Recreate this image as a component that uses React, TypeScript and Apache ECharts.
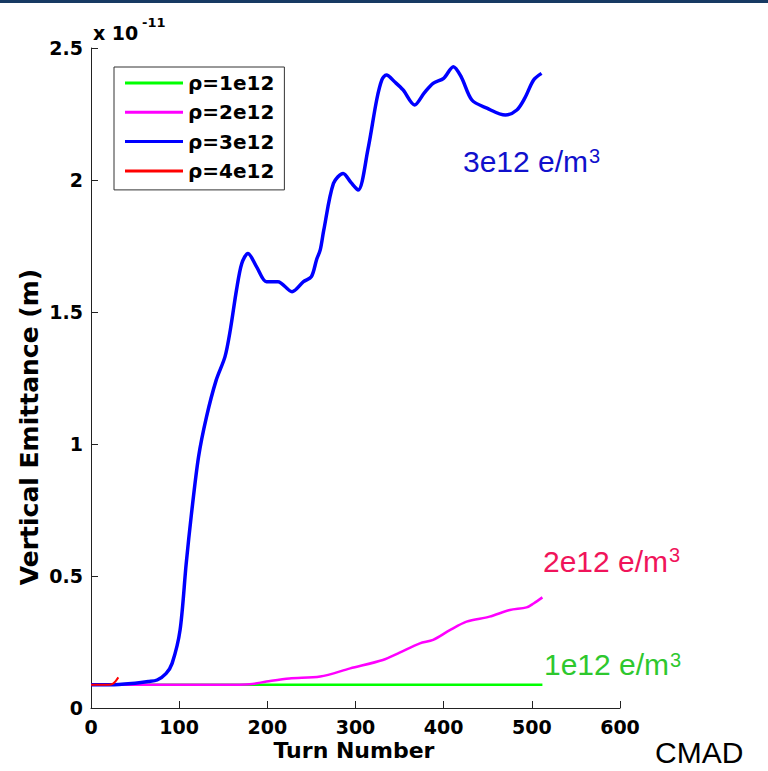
import React, { useEffect, useRef } from "react";
import * as echarts from "echarts";

// Emittance in units of 1e-11 m
const seriesNames = ["ρ=1e12", "ρ=2e12", "ρ=3e12", "ρ=4e12"];
const seriesColors = ["#00ff00", "#ff00ff", "#0000ff", "#ff0000"];

const greenX = [0, 512];
const greenY = [0.088, 0.088];

const magentaX = [0, 50, 100, 150, 180, 199, 225, 260, 294, 331, 350, 373, 388, 407, 426, 452, 475, 494, 502, 512];
const magentaY = [0.088, 0.088, 0.088, 0.088, 0.09, 0.1, 0.112, 0.119, 0.15, 0.182, 0.21, 0.245, 0.258, 0.295, 0.327, 0.346, 0.371, 0.381, 0.396, 0.419];

const blueX = [0, 22, 50, 65, 75, 85, 92, 101, 108, 114, 122, 131, 142, 152, 158, 165, 171, 178, 188, 199, 212, 228, 241, 250, 256, 260, 264, 275, 286, 295, 303, 314, 324, 330, 335, 345, 354, 367, 378, 388, 400, 411, 420, 432, 449, 470, 483, 492, 502, 511];
const blueY = [0.088, 0.088, 0.094, 0.1, 0.106, 0.13, 0.169, 0.295, 0.548, 0.737, 0.952, 1.103, 1.242, 1.331, 1.432, 1.583, 1.684, 1.722, 1.67, 1.615, 1.615, 1.577, 1.615, 1.634, 1.7, 1.735, 1.81, 1.987, 2.025, 1.99, 1.962, 2.114, 2.303, 2.38, 2.398, 2.37, 2.341, 2.284, 2.33, 2.366, 2.385, 2.429, 2.39, 2.303, 2.272, 2.246, 2.265, 2.31, 2.379, 2.404];

const redX = [0, 10, 20, 25, 28, 31];
const redY = [0.088, 0.088, 0.088, 0.092, 0.102, 0.116];

const xTicks = { min: 0, max: 600, interval: 100 };
const yTicks = { min: 0, max: 2.5, interval: 0.5 };

const pairs = (xs: number[], ys: number[]) => xs.map((x, i) => [x, ys[i]]);

export default function App() {
  const ref = useRef<HTMLDivElement>(null);
  useEffect(() => {
    if (!ref.current) return;
    const chart = echarts.init(ref.current, undefined, { renderer: "svg" });
    const boldFont = "DejaVu Sans";
    const axisColor = "#222";
    const seriesData = [pairs(greenX, greenY), pairs(magentaX, magentaY), pairs(blueX, blueY), pairs(redX, redY)];
    const widths = [2.5, 2.5, 3.5, 2];
    chart.setOption({
      animation: false,
      backgroundColor: "#ffffff",
      grid: { left: 91, top: 48, right: 148, bottom: 63 },
      xAxis: {
        type: "value",
        min: xTicks.min,
        max: xTicks.max,
        interval: xTicks.interval,
        axisLine: { show: true, lineStyle: { color: axisColor, width: 1 } },
        axisTick: { show: true, inside: true, length: 7, lineStyle: { color: axisColor } },
        axisLabel: { margin: 9, color: "#000", fontFamily: boldFont, fontWeight: "bold", fontSize: 19 },
        splitLine: { show: false },
      },
      yAxis: {
        type: "value",
        min: yTicks.min,
        max: yTicks.max,
        interval: yTicks.interval,
        axisLine: { show: true, lineStyle: { color: axisColor, width: 1 } },
        axisTick: { show: true, inside: true, length: 7, lineStyle: { color: axisColor } },
        axisLabel: { margin: 8, color: "#000", fontFamily: boldFont, fontWeight: "bold", fontSize: 19 },
        splitLine: { show: false },
      },
      legend: {
        orient: "vertical",
        left: 114,
        top: 67,
        padding: [6, 10, 9, 11],
        itemWidth: 58,
        itemHeight: 3,
        itemGap: 9.3,
        icon: "rect",
        borderColor: "#333",
        borderWidth: 1,
        backgroundColor: "#fff",
        data: seriesNames,
        textStyle: { fontFamily: boldFont, fontWeight: "bold", fontSize: 20, color: "#000", lineHeight: 20 },
      },
      series: seriesNames.map((name, i) => ({
        name,
        type: "line",
        data: seriesData[i],
        showSymbol: false,
        symbol: "none",
        smooth: 0.3,
        color: seriesColors[i],
        lineStyle: { color: seriesColors[i], width: widths[i] },
        emphasis: { disabled: true },
      })),
      graphic: [
        { type: "rect", shape: { x: 0, y: 0, width: 768, height: 3 }, style: { fill: "#173a63" } },
        {
          type: "text",
          x: 29,
          y: 427,
          rotation: Math.PI / 2,
          style: { text: "Vertical Emittance (m)", fontFamily: boldFont, fontWeight: "bold", fontSize: 25, fill: "#000", align: "center", verticalAlign: "middle" },
        },
        {
          type: "text",
          x: 354,
          y: 750,
          style: { text: "Turn Number", fontFamily: boldFont, fontWeight: "bold", fontSize: 22, fill: "#000", align: "center", verticalAlign: "middle" },
        },
        {
          type: "text",
          x: 93,
          y: 33,
          style: { text: "x 10", fontFamily: boldFont, fontWeight: "bold", fontSize: 19, fill: "#000", align: "left", verticalAlign: "middle" },
        },
        {
          type: "text",
          x: 142,
          y: 22,
          style: { text: "-11", fontFamily: boldFont, fontWeight: "bold", fontSize: 13, fill: "#000", align: "left", verticalAlign: "middle" },
        },
        { type: "text", x: 463, y: 161, style: { text: "3e12 e/m", fontFamily: "Liberation Sans", fontSize: 30, fill: "#1010cc", align: "left", verticalAlign: "middle" } },
        { type: "text", x: 589, y: 156, style: { text: "3", fontFamily: "Liberation Sans", fontSize: 20, fill: "#1010cc", align: "left", verticalAlign: "middle" } },
        { type: "text", x: 543, y: 561, style: { text: "2e12 e/m", fontFamily: "Liberation Sans", fontSize: 30, fill: "#f0145a", align: "left", verticalAlign: "middle" } },
        { type: "text", x: 669, y: 555, style: { text: "3", fontFamily: "Liberation Sans", fontSize: 20, fill: "#f0145a", align: "left", verticalAlign: "middle" } },
        { type: "text", x: 544, y: 664, style: { text: "1e12 e/m", fontFamily: "Liberation Sans", fontSize: 30, fill: "#2ec82e", align: "left", verticalAlign: "middle" } },
        { type: "text", x: 670, y: 660, style: { text: "3", fontFamily: "Liberation Sans", fontSize: 20, fill: "#2ec82e", align: "left", verticalAlign: "middle" } },
        { type: "text", x: 655, y: 752, style: { text: "CMAD", fontFamily: "Liberation Sans", fontSize: 30, fill: "#000", align: "left", verticalAlign: "middle" } },
      ],
    });
    return () => chart.dispose();
  }, []);
  return <div ref={ref} style={{ position: "fixed", left: 0, top: 0, width: 768, height: 771, background: "#fff" }} />;
}
